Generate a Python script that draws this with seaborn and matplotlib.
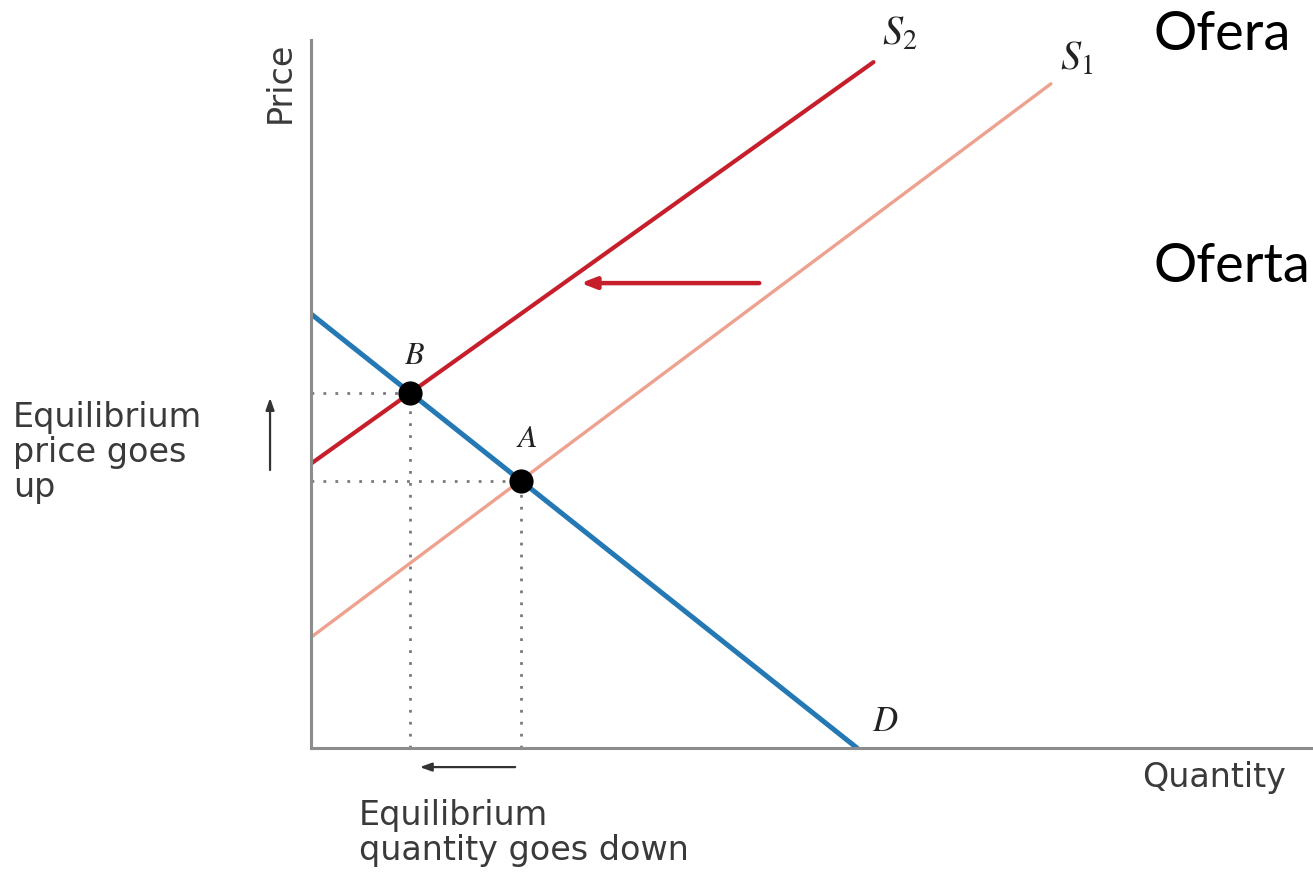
import matplotlib
matplotlib.use('Agg')
import matplotlib.pyplot as plt
import seaborn as sns


# Кривые спроса и предложения (условные единицы)
demand_q = [0, 10]
demand_p = [10, 0]

s1_q = [0, 13.55]
s1_p = [2.55, 15.3]

s2_q = [0, 10.3]
s2_p = [6.55, 15.8]

# Точки равновесия
eq_names = ['A', 'B']
eq_q = [3.84, 1.82]
eq_p = [6.16, 8.18]

text_color = '#3a3a3a'
axis_color = '#8c8c8c'

sns.set_style('white')
plt.rcParams['font.family'] = ['DejaVu Sans']
plt.rcParams['mathtext.fontset'] = 'stix'

fig = plt.figure(figsize=(13.13, 8.72), dpi=100)
ax = fig.add_axes([311 / 1313, 124 / 872, 1002 / 1313, 708 / 872])

# Кривые
sns.lineplot(x=s1_q, y=s1_p, ax=ax, color='#eea18f', lw=2.4, sort=False, estimator=None)
sns.lineplot(x=s2_q, y=s2_p, ax=ax, color='#c61f2b', lw=3.0, sort=False, estimator=None)
sns.lineplot(x=demand_q, y=demand_p, ax=ax, color='#2479b5', lw=3.6, sort=False, estimator=None)

# Пунктир до осей
for q, p in zip(eq_q, eq_p):
    ax.plot([0, q], [p, p], color='#7a7a7a', lw=2, ls=(0, (1, 3.3)), zorder=1)
    ax.plot([q, q], [0, p], color='#7a7a7a', lw=2, ls=(0, (1, 3.3)), zorder=1)

sns.scatterplot(x=eq_q, y=eq_p, ax=ax, color='black', s=260, zorder=5, edgecolor='black')

# Подписи точек и кривых
ax.text(eq_q[1] + 0.07, eq_p[1] + 0.87, r'$B$', fontsize=23, color='#222222', ha='center', va='center')
ax.text(eq_q[0] + 0.12, eq_p[0] + 0.98, r'$A$', fontsize=23, color='#222222', ha='center', va='center')
ax.text(demand_q[1] + 0.51, 0.62, r'$D$', fontsize=25, color='#222222', ha='center', va='center')
ax.text(s2_q[1] + 0.16, 16.2, r'$S_2$', fontsize=29, color='#222222', ha='left', va='baseline')
ax.text(s1_q[1] + 0.17, 15.62, r'$S_1$', fontsize=29, color='#222222', ha='left', va='baseline')

# Стрелка сдвига предложения
ax.annotate('', xy=(4.89, 10.71), xytext=(8.26, 10.71),
            arrowprops=dict(arrowstyle='-|>,head_length=0.9,head_width=0.35', color='#c61f2b', lw=3.2))

# Стрелки у осей
ax.annotate('', xy=(-0.75, 8.13), xytext=(-0.75, 6.34), annotation_clip=False,
            arrowprops=dict(arrowstyle='-|>,head_length=0.7,head_width=0.25', color='#333333', lw=1.6))
ax.annotate('', xy=(1.94, -0.44), xytext=(3.79, -0.44), annotation_clip=False,
            arrowprops=dict(arrowstyle='-|>,head_length=0.7,head_width=0.25', color='#333333', lw=1.6))

# Тексты осей
ax.text(-0.57, 15.33, 'Price', fontsize=24, color=text_color, rotation=90, ha='center', va='center')
ax.text(15.22, -0.90, 'Quantity', fontsize=24, color=text_color, ha='left', va='baseline')
ax.text(-5.46, 8.0, 'Equilibrium\nprice goes\nup', fontsize=24, color=text_color,
        ha='left', va='top', linespacing=1.08)
ax.text(0.88, -1.17, 'Equilibrium\nquantity goes down', fontsize=24, color=text_color,
        ha='left', va='top', linespacing=1.08)

ax.set_xlim(0, 18.35)
ax.set_ylim(0, 16.31)
ax.set_xticks([])
ax.set_yticks([])
ax.set_xlabel('')
ax.set_ylabel('')
sns.despine(ax=ax)
for side in ['left', 'bottom']:
    ax.spines[side].set_color(axis_color)
    ax.spines[side].set_linewidth(2.2)

# Текст слайда справа
fig.text(1153 / 1313, 1 - 50 / 872, 'Ofera', fontsize=39, family=['Lato', 'DejaVu Sans'],
         color='black', ha='left', va='baseline')
fig.text(1153 / 1313, 1 - 282 / 872, 'Oferta', fontsize=39, family=['Lato', 'DejaVu Sans'],
         color='black', ha='left', va='baseline')

fig.savefig('out.png', dpi=100)
